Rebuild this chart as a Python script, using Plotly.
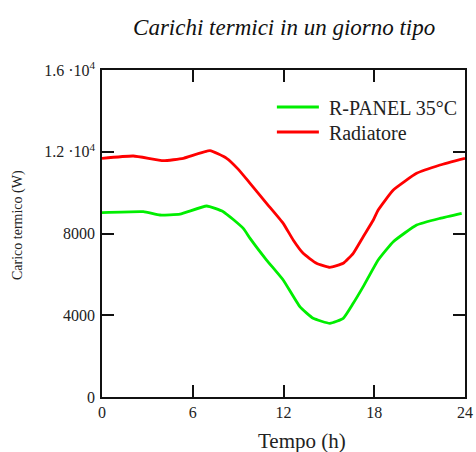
import plotly.graph_objects as go

hours_r = [0, 2.07, 4.06, 5.38, 7.14, 8.24, 9.0, 9.79, 10.88, 11.98, 12.64, 13.3, 14.18,
           15.07, 15.95, 16.61, 17.27, 17.94, 18.26, 19.26, 20.8, 22.35, 24]
radiatore = [11678, 11792, 11563, 11678, 12053, 11678, 11150, 10455, 9476, 8498, 7682,
             7030, 6541, 6345, 6541, 7030, 7845, 8661, 9150, 10128, 10944, 11352, 11680]

hours_p = [0, 2.73, 3.83, 5.16, 6.92, 8.02, 9.34, 9.79, 10.88, 11.98, 13.08, 13.96, 15.07,
           15.95, 16.61, 17.27, 18.26, 19.26, 20.8, 22.35, 23.78]
rpanel = [9019, 9068, 8905, 8950, 9346, 9068, 8253, 7763, 6703, 5725, 4420, 3849, 3604,
          3849, 4583, 5399, 6703, 7600, 8416, 8742, 8987]

x_ticks = [0, 6, 12, 18, 24]
y_ticks = [0, 4000, 8000, 12000, 16000]
y_ticktext = ["0", "4000", "8000", "1.2 ·10<sup>4</sup>", "1.6 ·10<sup>4</sup>"]

FONT = "Liberation Serif, Times New Roman, serif"
TXT = "#222222"

fig = go.Figure()
fig.add_trace(go.Scatter(x=hours_p, y=rpanel, mode="lines", name="\u00a0R-PANEL 35°C",
                         legend="legend",
                         line=dict(color="#00EE00", width=2.8, shape="spline", smoothing=0.4)))
fig.add_trace(go.Scatter(x=hours_r, y=radiatore, mode="lines", name="\u00a0Radiatore",
                         legend="legend2",
                         line=dict(color="#FF0000", width=2.8, shape="spline", smoothing=0.4)))

leg_common = dict(x=0.468, xanchor="left", yanchor="middle", bgcolor="rgba(0,0,0,0)",
                  font=dict(family=FONT, size=20, color=TXT), itemwidth=42)

fig.update_layout(
    width=476, height=452,
    margin=dict(l=102, r=11, t=70, b=55),
    paper_bgcolor="white", plot_bgcolor="white",
    font=dict(family=FONT, color=TXT),
    title=dict(text="<i>Carichi termici in un giorno tipo</i>", x=0.597, xanchor="center",
               y=0.94, yanchor="middle", font=dict(family=FONT, size=23, color="#111111")),
    showlegend=True,
    legend=dict(y=(397 - 107) / 327, **leg_common),
    legend2=dict(y=(397 - 132) / 327, **leg_common),
    xaxis=dict(range=[0, 24], tickvals=x_ticks, ticks="inside", ticklen=12, tickwidth=1.5,
               tickcolor="#111111", showline=True, linecolor="#111111", linewidth=1.5,
               mirror="ticks", showgrid=False, zeroline=False, automargin=False,
               tickfont=dict(family=FONT, size=16, color=TXT)),
    yaxis=dict(range=[0, 16000], tickvals=y_ticks, ticktext=y_ticktext, ticks="inside",
               ticklen=12, tickwidth=1.5, tickcolor="#111111", showline=True,
               linecolor="#111111", linewidth=1.5, mirror="ticks", showgrid=False,
               zeroline=False, automargin=False, ticklabelstandoff=2,
               tickfont=dict(family=FONT, size=16, color=TXT)),
    annotations=[
        dict(text="Tempo (h)", x=(302 - 102) / 363, xref="paper", xanchor="center",
             y=-(441 - 397) / 327, yref="paper", yanchor="middle", showarrow=False,
             font=dict(family=FONT, size=21, color=TXT)),
        dict(text="Carico termico (W)", x=-(102 - 18) / 363, xref="paper", xanchor="center",
             y=(397 - 225) / 327, yref="paper", yanchor="middle", showarrow=False,
             textangle=-90, font=dict(family=FONT, size=14, color=TXT)),
    ],
)

fig.write_html("out.html", config={"displayModeBar": False},
               post_script="document.body.style.margin='0';")
